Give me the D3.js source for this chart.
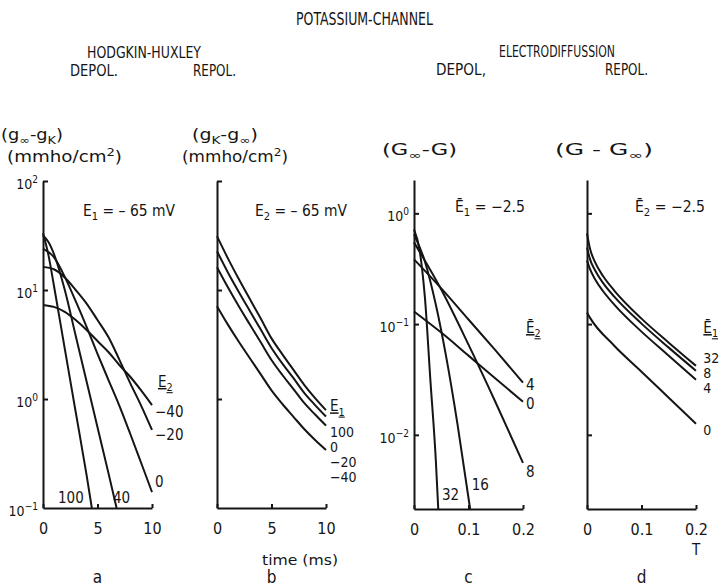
<!DOCTYPE html>
<html>
<head>
<meta charset="utf-8">
<script src="https://cdn.jsdelivr.net/npm/d3@7"></script>
<style>
  body { margin: 0; background: #fff; }
  svg text { font-family: "DejaVu Sans Condensed", "DejaVu Sans", sans-serif; fill: #151515; }
</style>
</head>
<body>
<svg id="fig" width="728" height="586"></svg>
<script>
/* ---------- data ---------- */
// a: Hodgkin-Huxley, depolarisation from E1 = -65 mV, (g_inf - gK) vs time (ms); key = E2
const hhDepolCurves = [
  ["100", [[0, 33.1], [0.5, 20.9], [1, 11.0], [2, 2.88], [3, 0.76], [4, 0.2], [4.48, 0.1]]],
  ["40",  [[0, 31.6], [0.5, 27.5], [1, 21.4], [2, 10], [3, 3.8], [4, 1.45], [5, 0.55], [6, 0.21], [6.75, 0.1]]],
  ["0",   [[0, 24], [1, 20], [2, 13.2], [3, 7.9], [4, 4.6], [5, 2.6], [6, 1.5], [7, 0.87], [8, 0.48], [9, 0.26], [10, 0.14]]],
  ["-20", [[0, 16.3], [1, 15.5], [2, 13], [3, 10], [4, 7.5], [5, 5.3], [6, 3.7], [7, 2.3], [8, 1.4], [9, 0.87], [10, 0.52]]],
  ["-40", [[0, 7.3], [1, 7.0], [2, 6.3], [3, 5.3], [4, 4.3], [5, 3.4], [6, 2.7], [7, 2.05], [8, 1.6], [9, 1.2], [10, 0.88]]]
];
// b: Hodgkin-Huxley, repolarisation to E2 = -65 mV, (gK - g_inf); key = E1
const hhTime = [0, 1, 2, 3, 4, 5, 6, 7, 8, 9, 10];
const hhRepolCurves = [
  ["100", [31.2, 19.5, 12.6, 8.3, 5.5, 3.6, 2.57, 1.86, 1.35, 1.02, 0.79]],
  ["0",   [22.7, 14.5, 9.6, 6.46, 4.36, 2.94, 2.11, 1.56, 1.14, 0.88, 0.69]],
  ["-20", [16.2, 10.6, 7.1, 4.85, 3.33, 2.28, 1.66, 1.24, 0.92, 0.72, 0.57]],
  ["-40", [7.1, 4.81, 3.35, 2.38, 1.69, 1.2, 0.9, 0.69, 0.53, 0.42, 0.34]]
];
// c: electrodiffusion, depolarisation from E1 = -2.5, (G_inf - G) vs T; key = E2
const edDepolCurves = [
  ["32", [[0, 0.716], [0.01, 0.472], [0.015, 0.311], [0.02, 0.174], [0.03, 0.0315], [0.04, 0.00594], [0.0445, 0.00214]]],
  ["16", [[0, 0.646], [0.02, 0.368], [0.04, 0.15], [0.06, 0.0477], [0.08, 0.0123], [0.103, 0.00214]]],
  ["8",  [[0, 0.547], [0.05, 0.205], [0.1, 0.0652], [0.15, 0.0195], [0.2, 0.00558]]],
  ["4",  [[0, 0.384], [0.05, 0.21], [0.1, 0.11], [0.15, 0.0575], [0.2, 0.0296]]],
  ["0",  [[0, 0.13], [0.05, 0.0838], [0.1, 0.0519], [0.15, 0.0321], [0.2, 0.0199]]]
];
// d: electrodiffusion, repolarisation to E2 = -2.5, (G - G_inf); key = E1
const edRepolCurves = [
  ["32", [[0, 0.659], [0.005, 0.492], [0.015, 0.36], [0.03, 0.269], [0.05, 0.201], [0.1, 0.112], [0.15, 0.068], [0.2, 0.042]]],
  ["8",  [[0, 0.492], [0.005, 0.392], [0.015, 0.305], [0.03, 0.233], [0.05, 0.177], [0.1, 0.101], [0.15, 0.0613], [0.2, 0.0379]]],
  ["4",  [[0, 0.376], [0.005, 0.318], [0.015, 0.253], [0.03, 0.197], [0.05, 0.15], [0.1, 0.0855], [0.15, 0.0519], [0.2, 0.0315]]],
  ["0",  [[0, 0.127], [0.005, 0.115], [0.05, 0.0638], [0.1, 0.0372], [0.15, 0.0216], [0.2, 0.0126]]]
];

// curve labels, placed in data units: [text, x, y]
const aLabels = [["-40", 10.28, 0.684], ["-20", 10.28, 0.42], ["0", 10.28, 0.156], ["100", 1.38, 0.111], ["40", 6.42, 0.111]];
const bLabels = [["100", 10.37, 0.448], ["0", 10.37, 0.327], ["-20", 10.37, 0.24], ["-40", 10.37, 0.174]];
const cLabels = [["4", 0.2055, 0.0254], ["0", 0.2055, 0.0171], ["8", 0.2055, 0.00415], ["32", 0.0514, 0.00257], ["16", 0.106, 0.00316]];
const dLabels = [["32", 0.2135, 0.0445], ["8", 0.2135, 0.0325], ["4", 0.2135, 0.0238], ["0", 0.2135, 0.00993]];

const timeTicks = [0, 5, 10];
const tTicks = [0, 0.1, 0.2];
const hhDecades = [100, 10, 1, 0.1];
const edDecades = [1, 0.1, 0.01];

/* ---------- helpers ---------- */
const svg = d3.select("#fig");
const ink = "#151515";

// text made of parts: [string, "n" | "sub" | "sup"]
function rich(g, x, y, parts, size, opts = {}) {
  const t = g.append("text")
    .attr("x", x).attr("y", y)
    .attr("font-size", size)
    .attr("text-anchor", opts.anchor || "start");
  let shift = 0;
  for (const [s, k] of parts) {
    const target = k === "sup" ? -0.42 * size : k === "sub" ? 0.28 * size : 0;
    t.append("tspan")
      .attr("dy", target - shift)
      .attr("font-size", k === "sup" || k === "sub" ? size * 0.72 : null)
      .text(s);
    shift = target;
  }
  if (opts.width) t.attr("textLength", opts.width).attr("lengthAdjust", "spacingAndGlyphs");
  if (opts.underline) t.style("text-decoration", "underline");
  return t;
}

function drawPanel(p) {
  const g = svg.append("g");
  const x = p.x, y = p.y;

  // y axis with inward ticks
  g.append("g")
    .attr("transform", `translate(${x.range()[0]},0)`)
    .call(d3.axisLeft(y).tickValues(p.yTicks).tickSizeInner(-5).tickSizeOuter(0).tickFormat(() => ""))
    .call(a => a.selectAll("path,line").attr("stroke", ink).attr("stroke-width", 2));

  // x axis with inward ticks
  g.append("g")
    .attr("transform", `translate(0,${y.range()[0]})`)
    .call(d3.axisBottom(x).tickValues(p.xTicks).tickSizeInner(-4).tickSizeOuter(0)
      .tickPadding(15).tickFormat(p.xFormat))
    .call(a => a.selectAll("path,line").attr("stroke", ink).attr("stroke-width", 2))
    .call(a => a.selectAll("text").attr("font-size", 16)
      .attr("font-family", '"DejaVu Sans Condensed", sans-serif').attr("fill", ink));

  // decade labels
  if (p.yLabels) {
    for (const v of p.yLabels) {
      const e = Math.round(Math.log10(v));
      rich(g, x.range()[0] - 5, y(v) + 8, [["10", "n"], [String(e).replace("-", "\u2212"), "sup"]], 14, { anchor: "end" });
    }
  }

  const line = d3.line()
    .x(d => x(d[0]))
    .y(d => y(d[1]))
    .curve(d3.curveMonotoneX);

  g.append("g")
    .selectAll("path")
    .data(p.curves)
    .join("path")
    .attr("d", d => line(d[1]))
    .attr("fill", "none")
    .attr("stroke", ink)
    .attr("stroke-width", 2)
    .attr("stroke-linejoin", "round");

  g.append("g")
    .selectAll("text")
    .data(p.labels)
    .join("text")
    .attr("x", d => x(d[1]))
    .attr("y", d => y(d[2]))
    .attr("font-size", p.labelSize || 15)
    .text(d => d[0].replace("-", "\u2212"));

  rich(g, x(p.letterAt), 583, [[p.letter, "n"]], 17, { anchor: "middle" });
  return g;
}

/* ---------- scales ---------- */
const xA = d3.scaleLinear().domain([0, 10]).range([43, 152]);
const xB = d3.scaleLinear().domain([0, 10]).range([217, 326]);
const xC = d3.scaleLinear().domain([0, 0.2]).range([414, 523]);
const xD = d3.scaleLinear().domain([0, 0.2]).range([587, 696]);
const yHH = d3.scaleLog().domain([0.1, 100]).range([508, 181]);
const yED = d3.scaleLog().domain([0.00214, 2]).range([509, 180]);

/* ---------- panels ---------- */
const pa = drawPanel({
  x: xA, y: yHH, yTicks: hhDecades.slice(0, 3), yLabels: hhDecades, xTicks: timeTicks,
  xFormat: d3.format("d"), curves: hhDepolCurves, labels: aLabels, letter: "a", letterAt: 5
});
const pb = drawPanel({
  x: xB, y: yHH, yTicks: hhDecades.slice(0, 3), yLabels: null, xTicks: timeTicks,
  xFormat: d3.format("d"), curves: hhRepolCurves.map(([k, v]) => [k, hhTime.map((t, i) => [t, v[i]])]),
  labels: bLabels, labelSize: 14, letter: "b", letterAt: 5
});
const pc = drawPanel({
  x: xC, y: yED, yTicks: edDecades, yLabels: edDecades, xTicks: tTicks,
  xFormat: d => (d === 0 ? "0" : d3.format(".1f")(d)), curves: edDepolCurves, labels: cLabels, letter: "c", letterAt: 0.1
});
const pd = drawPanel({
  x: xD, y: yED, yTicks: edDecades, yLabels: null, xTicks: tTicks,
  xFormat: d => (d === 0 ? "0" : d3.format(".1f")(d)), curves: edRepolCurves, labels: dLabels, labelSize: 14,
  letter: "d", letterAt: 0.1
});

// legend headers
rich(pa, xA(10.55), yHH(1.29), [["E", "n"], ["2", "sub"]], 15, { underline: true });
rich(pb, xB(10.37), yHH(0.77), [["E", "n"], ["1", "sub"]], 15, { underline: true });
rich(pc, xC(0.2055), yED(0.083), [["E\u0304", "n"], ["2", "sub"]], 15, { underline: true });
rich(pd, xD(0.2135), yED(0.083), [["E\u0304", "n"], ["1", "sub"]], 15, { underline: true });

// conditions inside panels
rich(pa, 83, 216, [["E", "n"], ["1", "sub"], [" = \u2013 65 mV", "n"]], 15, { width: 92 });
rich(pb, 255, 216, [["E", "n"], ["2", "sub"], [" = \u2013 65 mV", "n"]], 15, { width: 92 });
rich(pc, 455, 212, [["E\u0304", "n"], ["1", "sub"], [" = \u22122.5", "n"]], 15, { width: 70 });
rich(pd, 635, 212, [["E\u0304", "n"], ["2", "sub"], [" = \u22122.5", "n"]], 15, { width: 70 });

// x axis titles
rich(pb, 262, 565, [["time (ms)", "n"]], 14, { width: 76 });
rich(pd, xD(0.2), 555, [["T", "n"]], 15, { anchor: "middle" });

/* ---------- headings ---------- */
const head = svg.append("g");
rich(head, 296, 25, [["POTASSIUM-CHANNEL", "n"]], 17, { width: 137 });
rich(head, 87, 58, [["HODGKIN-HUXLEY", "n"]], 15, { width: 114 });
rich(head, 70, 76, [["DEPOL.", "n"]], 15, { width: 48 });
rich(head, 193, 76, [["REPOL.", "n"]], 15, { width: 43 });
rich(head, 499, 57, [["ELECTRODIFFUSSION", "n"]], 15, { width: 116 });
rich(head, 436, 75, [["DEPOL,", "n"]], 15, { width: 50 });
rich(head, 605, 75, [["REPOL.", "n"]], 15, { width: 43 });

// y axis titles
rich(head, 1, 140, [["(g", "n"], ["\u221E", "sub"], ["-g", "n"], ["K", "sub"], [")", "n"]], 15, { width: 62 });
rich(head, 192, 140, [["(g", "n"], ["K", "sub"], ["-g", "n"], ["\u221E", "sub"], [")", "n"]], 15, { width: 66 });
rich(head, 7, 162, [["(mmho/cm", "n"], ["2", "sup"], [")", "n"]], 15, { width: 115 });
rich(head, 182, 162, [["(mmho/cm", "n"], ["2", "sup"], [")", "n"]], 15, { width: 106 });
rich(head, 382, 155, [["(G", "n"], ["\u221E", "sub"], ["-G)", "n"]], 15, { width: 75 });
rich(head, 555, 155, [["(G - G", "n"], ["\u221E", "sub"], [")", "n"]], 15, { width: 98 });
</script>
</body>
</html>
